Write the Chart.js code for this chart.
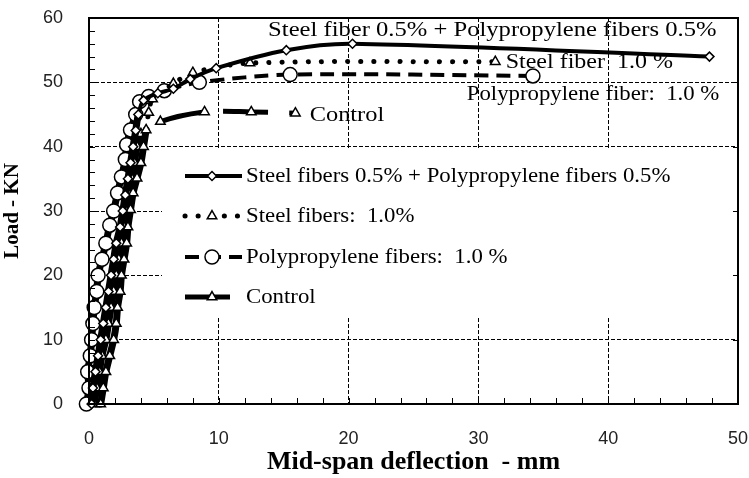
<!DOCTYPE html>
<html>
<head>
<meta charset="utf-8">
<script src="https://cdn.jsdelivr.net/npm/chart.js@4.4.0/dist/chart.umd.min.js"></script>
<style>
  html, body { margin: 0; padding: 0; background: #fff; }
  #wrap { width: 749px; height: 478px; }
</style>
</head>
<body>
<div id="wrap"><canvas id="loadchart" width="749" height="478"></canvas></div>
<script>
// values: deflection (mm) / load (kN)
var hybridX = [0.2, 0.3, 0.5, 0.7, 0.9, 1.1, 1.3, 1.5, 1.7, 1.9, 2.1, 2.4, 2.6, 2.8, 3.0, 3.2, 3.4, 3.6, 3.8, 4.2, 5.3, 6.5, 7.8, 9.8, 15.2, 20.3, 47.8];
var hybridY = [0, 2.5, 5, 7.5, 10, 12.5, 15, 17.5, 20, 22.5, 25, 27.5, 30, 32.5, 35, 37.5, 40, 42.5, 45, 47.2, 48.3, 49.0, 50.5, 52.2, 55.0, 56.0, 54.0];

var steelX = [0.9, 1.1, 1.3, 1.6, 1.9, 2.1, 2.2, 2.4, 2.5, 2.7, 2.9, 3.0, 3.2, 3.4, 3.7, 4.0, 4.2, 4.4, 4.6, 4.9, 6.5, 8.0, 12.4, 31.3];
var steelY = [0, 2.5, 5, 7.5, 10, 12.5, 15, 17.5, 20, 22.5, 25, 27.5, 30.2, 32.8, 35.1, 37.5, 40, 42.6, 45.3, 47.4, 49.8, 51.5, 53.0, 53.2];

var ppX = [-0.2, 0.0, -0.1, 0.1, 0.2, 0.3, 0.4, 0.6, 0.7, 1.0, 1.3, 1.6, 1.9, 2.2, 2.5, 2.8, 2.9, 3.2, 3.6, 3.9, 4.6, 5.8, 8.5, 15.5, 34.2];
var ppY = [0, 2.5, 5, 7.5, 10, 12.5, 15, 17.5, 20, 22.5, 25, 27.8, 30, 32.8, 35.3, 38, 40.3, 42.6, 45, 47, 47.8, 48.7, 50.0, 51.2, 51.0];

var controlX = [0.4, 0.6, 0.8, 1.0, 1.3, 1.5, 1.7, 1.9, 2.1, 2.3, 2.5, 2.7, 2.9, 3.1, 3.3, 3.5, 3.7, 4.0, 5.5, 8.9, 12.5, 15.9];
var controlY = [0, 2.5, 5, 7.5, 10, 12.5, 15, 17.5, 20, 22.5, 25, 27.5, 30, 32.5, 35, 37.5, 40, 42, 43.9, 45.4, 45.4, 45.2];

var seriesNames = [
  'Steel fibers 0.5% + Polypropylene fibers 0.5%',
  'Steel fibers:  1.0%',
  'Polypropylene fibers:  1.0 %',
  'Control'
];
var xTicks = [0, 10, 20, 30, 40, 50];
var yTicks = [0, 10, 20, 30, 40, 50, 60];
var curveNotes = [
  'Steel fiber 0.5% + Polypropylene fibers 0.5%',
  'Steel fiber  1.0 %',
  'Polypropylene fiber:  1.0 %',
  'Control'
];

function pairs(xs, ys) {
  return xs.map(function (x, i) { return { x: x, y: ys[i] }; });
}

var serif = "'Liberation Serif', 'Times New Roman', serif";
var sans = "'Liberation Sans', Arial, sans-serif";

// the steep elastic part is one heavy black band in the picture
function rising(c) {
  return c.p1.parsed.x < 4.5 && c.p1.parsed.y <= 45.3;
}
var bandStyle = {
  borderWidth: function (c) { return rising(c) ? 7 : undefined; },
  borderDash: function (c) { return rising(c) ? [] : undefined; }
};

// text a little wider than the font, like the picture
function wideText(ctx, txt, x, y, sx) {
  ctx.save();
  ctx.translate(x, y);
  ctx.scale(sx, 1);
  ctx.fillText(txt, 0, 0);
  ctx.restore();
}

// white box behind the legend, over the grid
var legendBox = {
  id: 'legendBox',
  beforeDatasetsDraw: function (chart) {
    var a = chart.chartArea, ctx = chart.ctx;
    ctx.save();
    ctx.fillStyle = '#fff';
    ctx.fillRect(a.left + 73, 150, a.right - a.left - 74, 168);
    ctx.restore();
  },
  afterDatasetsDraw: function (chart) {
    var ctx = chart.ctx;
    var rows = [176, 216, 257, 297];
    ctx.save();
    chart.data.datasets.forEach(function (ds, i) {
      var y = rows[i];
      ctx.strokeStyle = '#000';
      ctx.lineWidth = ds.borderWidth;
      ctx.lineCap = ds.borderCapStyle || 'butt';
      ctx.setLineDash(ds.borderDash || []);
      ctx.beginPath();
      ctx.moveTo(185, y);
      ctx.lineTo(242, y);
      ctx.stroke();
      ctx.setLineDash([]);
      ctx.fillStyle = '#fff';
      ctx.lineWidth = ds.pointBorderWidth;
      Chart.helpers.drawPoint(ctx, { pointStyle: ds.pointStyle, radius: ds.pointRadius, rotation: 0, borderWidth: ds.pointBorderWidth }, 212, y);
      ctx.fillStyle = '#000';
      ctx.font = '20px ' + serif;
      ctx.textBaseline = 'middle';
      ctx.textAlign = 'left';
      wideText(ctx, ds.label, 246, y + 1, 1.14);
    });
    ctx.restore();
  }
};

// labels written next to the curve ends
var curveLabels = {
  id: 'curveLabels',
  afterDatasetsDraw: function (chart) {
    var ctx = chart.ctx, sx = chart.scales.x, sy = chart.scales.y;
    ctx.save();
    ctx.fillStyle = '#000';
    ctx.font = '20px ' + serif;
    ctx.textBaseline = 'middle';
    ctx.textAlign = 'left';
    wideText(ctx, curveNotes[0], sx.getPixelForValue(13.8), sy.getPixelForValue(58.0), 1.23);
    wideText(ctx, curveNotes[1], sx.getPixelForValue(32.1), sy.getPixelForValue(53.0), 1.2);
    wideText(ctx, curveNotes[2], sx.getPixelForValue(29.1), sy.getPixelForValue(48.1), 1.14);
    wideText(ctx, curveNotes[3], sx.getPixelForValue(17.0), sy.getPixelForValue(44.8), 1.22);
    ctx.restore();
  }
};

// plot frame with inward tick marks
var frame = {
  id: 'frame',
  afterDraw: function (chart) {
    var a = chart.chartArea, ctx = chart.ctx, sx = chart.scales.x, sy = chart.scales.y;
    ctx.save();
    ctx.strokeStyle = '#000';
    ctx.lineWidth = 1;
    ctx.beginPath();
    for (var v = 2; v < 50; v += 2) {
      var px = Math.round(sx.getPixelForValue(v)) + 0.5;
      ctx.moveTo(px, a.bottom);
      ctx.lineTo(px, a.bottom - 6);
    }
    for (var w = 2; w < 60; w += 2) {
      var py = Math.round(sy.getPixelForValue(w)) + 0.5;
      ctx.moveTo(a.left, py);
      ctx.lineTo(a.left + 6, py);
    }
    for (var k = 10; k < 60; k += 10) {
      var pr = Math.round(sy.getPixelForValue(k)) + 0.5;
      ctx.moveTo(a.right, pr);
      ctx.lineTo(a.right - 5, pr);
    }
    ctx.stroke();
    ctx.lineWidth = 2;
    ctx.strokeRect(a.left, a.top, a.right - a.left, a.bottom - a.top);
    ctx.restore();
  }
};

var ctx = document.getElementById('loadchart').getContext('2d');
var myChart = new Chart(ctx, {
  type: 'scatter',
  data: {
    datasets: [
      {
        label: seriesNames[0],
        data: pairs(hybridX, hybridY),
        showLine: true,
        clip: false,
        borderColor: '#000',
        borderWidth: 4,
        tension: 0.3,
        segment: bandStyle,
        pointStyle: 'rectRot',
        pointRadius: 4.5,
        pointBorderWidth: 1.5,
        pointBackgroundColor: '#fff',
        pointBorderColor: '#000'
      },
      {
        label: seriesNames[1],
        data: pairs(steelX, steelY),
        showLine: true,
        clip: false,
        borderColor: '#000',
        borderWidth: 5,
        borderDash: [0.1, 13],
        borderCapStyle: 'round',
        tension: 0.3,
        segment: bandStyle,
        pointStyle: 'triangle',
        pointRadius: 5.5,
        pointBorderWidth: 1.5,
        pointBackgroundColor: '#fff',
        pointBorderColor: '#000'
      },
      {
        label: seriesNames[2],
        data: pairs(ppX, ppY),
        showLine: true,
        clip: false,
        borderColor: '#000',
        borderWidth: 4,
        borderDash: [14, 8],
        tension: 0.3,
        segment: bandStyle,
        pointStyle: 'circle',
        pointRadius: 7,
        pointBorderWidth: 1.5,
        pointBackgroundColor: '#fff',
        pointBorderColor: '#000'
      },
      {
        label: seriesNames[3],
        data: pairs(controlX, controlY),
        showLine: true,
        clip: false,
        borderColor: '#000',
        borderWidth: 5,
        borderDash: [45, 21],
        borderDashOffset: 45,
        tension: 0.3,
        segment: bandStyle,
        pointStyle: 'triangle',
        pointRadius: 5.5,
        pointBorderWidth: 1.5,
        pointBackgroundColor: '#fff',
        pointBorderColor: '#000'
      }
    ]
  },
  options: {
    responsive: false,
    animation: false,
    devicePixelRatio: 1,
    layout: { padding: { top: 18, right: 11, left: 0, bottom: 0 } },
    plugins: {
      legend: { display: false },
      tooltip: { enabled: false }
    },
    scales: {
      x: {
        type: 'linear',
        min: 0,
        max: 50,
        afterFit: function (s) { s.height = 74; s.paddingLeft = 0; s.paddingRight = 0; },
        afterBuildTicks: function (s) { s.ticks = xTicks.map(function (v) { return { value: v }; }); },
        grid: {
          drawTicks: false,
          color: function (c) { return (c.tick && (c.tick.value === 0 || c.tick.value === 50)) ? 'rgba(0,0,0,0)' : '#000'; },
          lineWidth: 1
        },
        border: { display: false, dash: [4, 2] },
        ticks: { padding: 24, color: '#222', font: { family: sans, size: 18 } },
        title: {
          display: true,
          text: 'Mid-span deflection  - mm',
          color: '#000',
          font: { family: serif, size: 26, weight: 'bold' },
          padding: { top: 0, bottom: 0 }
        }
      },
      y: {
        type: 'linear',
        min: 0,
        max: 60,
        afterFit: function (s) { s.width = 89; s.paddingTop = 0; s.paddingBottom = 0; },
        afterBuildTicks: function (s) { s.ticks = yTicks.map(function (v) { return { value: v }; }); },
        grid: {
          drawTicks: false,
          color: function (c) { return (c.tick && (c.tick.value === 0 || c.tick.value === 60)) ? 'rgba(0,0,0,0)' : '#000'; },
          lineWidth: 1
        },
        border: { display: false, dash: [4, 2] },
        ticks: { padding: 26, color: '#222', font: { family: sans, size: 18 } },
        title: {
          display: true,
          text: 'Load - KN',
          color: '#000',
          font: { family: serif, size: 21, weight: 'bold' },
          padding: { top: 0, bottom: 0 }
        }
      }
    }
  },
  plugins: [legendBox, curveLabels, frame]
});
</script>
</body>
</html>
